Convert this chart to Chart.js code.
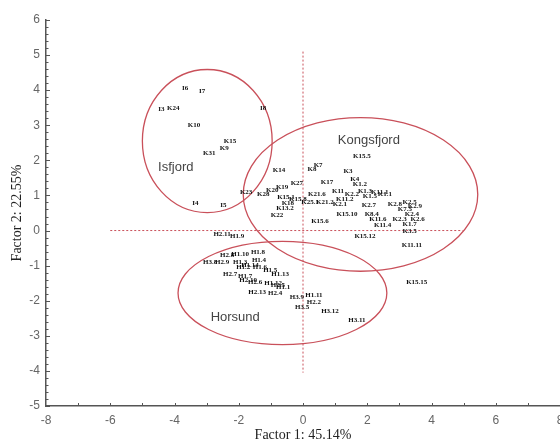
<!DOCTYPE html>
<html>
<head>
<meta charset="utf-8">
<script src="https://cdn.jsdelivr.net/npm/chart.js@4.4.1/dist/chart.umd.min.js"></script>
<style>
  html, body { margin: 0; padding: 0; background: #fff; }
  #wrap { width: 560px; height: 444px; }
</style>
</head>
<body>
<div id="wrap"><canvas id="plot"></canvas></div>
<script>
// Sample scores, Isfjord group
const isfjordNames = ['I6', 'I7', 'I3', 'K24', 'I8', 'K10', 'K15', 'K9', 'K31', 'K23', 'I4', 'I5'];
const isfjordF1 = [-3.67, -3.14, -4.41, -4.04, -1.24, -3.39, -2.27, -2.45, -2.92, -1.77, -3.35, -2.48];
const isfjordF2 = [4.07, 3.96, 3.45, 3.50, 3.50, 2.99, 2.56, 2.34, 2.20, 1.08, 0.77, 0.71];

// Kongsfjord group
const kongsNames = ['K15.5', 'K8', 'K7', 'K14', 'K3', 'K4', 'K1.2', 'K27', 'K17', 'K19', 'K28', 'K20',
  'K15.1', 'K15.8', 'K21.6', 'K11', 'K11.1', 'K2.2', 'K1.3', 'K1.5', 'K11.2', 'K2.7', 'K18', 'K13.2',
  'K25.1', 'K21.2', 'K2.1', 'K15.10', 'K22', 'K15.6', 'K8.4', 'K11.6', 'K15.12', 'K11.4', 'K1.1',
  'K2.5', 'K7.5', 'K2.4', 'K2.6', 'K1.7', 'K2.3', 'K2.8', 'K2.9', 'K3.5', 'K11.11', 'K15.15'];
const kongsF1 = [1.83, 0.28, 0.47, -0.75, 1.40, 1.61, 1.77, -0.19, 0.75, -0.65, -1.24, -0.96,
  -0.53, -0.16, 0.43, 1.09, 2.39, 1.52, 1.93, 2.08, 1.30, 2.05, -0.47, -0.56,
  0.22, 0.68, 1.15, 1.37, -0.81, 0.53, 2.14, 2.33, 1.93, 2.48, 2.55,
  3.32, 3.17, 3.39, 3.57, 3.32, 3.01, 2.86, 3.48, 3.32, 3.39, 3.54];
const kongsF2 = [2.11, 1.74, 1.85, 1.71, 1.68, 1.45, 1.31, 1.34, 1.37, 1.23, 1.05, 1.14,
  0.94, 0.88, 1.03, 1.11, 1.08, 1.03, 1.11, 0.97, 0.88, 0.71, 0.77, 0.63,
  0.80, 0.80, 0.74, 0.48, 0.43, 0.26, 0.46, 0.31, -0.17, 0.14, 1.03,
  0.80, 0.60, 0.48, 0.31, 0.17, 0.31, 0.74, 0.68, -0.03, -0.43, -1.48];

// Horsund group
const horsundNames = ['H2.11', 'H1.9', 'H1.8', 'H2.8', 'H1.10', 'H1.4', 'H3.8', 'H2.9', 'H1.3', 'H1.14',
  'H1.2', 'H1.6', 'H1.5', 'H1.13', 'H2.7', 'H1.7', 'H2.10', 'H2.6', 'H1.12', 'H1.1', 'H2.5',
  'H2.13', 'H2.4', 'H3.9', 'H1.11', 'H2.2', 'H3.5', 'H3.12', 'H3.11'];
const horsundF1 = [-2.52, -2.05, -1.40, -2.36, -1.96, -1.37, -2.89, -2.52, -1.96, -1.65,
  -1.86, -1.34, -1.02, -0.71, -2.27, -1.80, -1.71, -1.49, -0.93, -0.62, -0.78,
  -1.43, -0.87, -0.19, 0.34, 0.34, -0.03, 0.84, 1.68];
const horsundF2 = [-0.09, -0.17, -0.63, -0.71, -0.68, -0.85, -0.91, -0.91, -0.91, -1.00,
  -1.05, -1.05, -1.14, -1.23, -1.25, -1.31, -1.42, -1.48, -1.51, -1.62, -1.57,
  -1.77, -1.79, -1.91, -1.85, -2.05, -2.17, -2.31, -2.56];

// Group ellipses (data units)
const groupNames = ['Isfjord', 'Kongsfjord', 'Horsund'];
const ellipseCx = [-2.98, 1.79, -0.64];
const ellipseCy = [2.55, 1.03, -1.78];
const ellipseRx = [2.02, 3.65, 3.25];
const ellipseRy = [2.04, 2.19, 1.47];
const groupLabelX = [-3.96, 2.05, -2.11];
const groupLabelY = [1.8, 2.58, -2.49];

// Axis ticks
const xTicks = [-8, -6, -4, -2, 0, 2, 4, 6, 8];
const yTicks = [-5, -4, -3, -2, -1, 0, 1, 2, 3, 4, 5, 6];

function toPoints(names, f1, f2) {
  return names.map((n, i) => ({ x: f1[i], y: f2[i], name: n }));
}

const RED = '#c9505a';
const AXIS = '#555';

// draws ellipses, zero lines, minor ticks, group names and point labels
const overlayPlugin = {
  id: 'overlay',
  beforeDatasetsDraw(chart) {
    const { ctx, scales: { x, y } } = chart;
    ctx.save();
    // dotted zero lines
    ctx.strokeStyle = RED;
    ctx.lineWidth = 1;
    ctx.setLineDash([2, 2]);
    ctx.beginPath();
    ctx.moveTo(x.getPixelForValue(0), y.getPixelForValue(5.1));
    ctx.lineTo(x.getPixelForValue(0), y.getPixelForValue(-4.05));
    ctx.moveTo(x.getPixelForValue(-6), y.getPixelForValue(0));
    ctx.lineTo(x.getPixelForValue(4.97), y.getPixelForValue(0));
    ctx.stroke();
    ctx.setLineDash([]);

    // ellipses
    ctx.lineWidth = 1.3;
    for (let i = 0; i < groupNames.length; i++) {
      const cx = x.getPixelForValue(ellipseCx[i]);
      const cy = y.getPixelForValue(ellipseCy[i]);
      const rx = Math.abs(x.getPixelForValue(ellipseCx[i] + ellipseRx[i]) - cx);
      const ry = Math.abs(y.getPixelForValue(ellipseCy[i] + ellipseRy[i]) - cy);
      ctx.beginPath();
      ctx.ellipse(cx, cy, rx, ry, 0, 0, Math.PI * 2);
      ctx.stroke();
    }

    // group names
    ctx.fillStyle = '#444';
    ctx.font = '13px "Liberation Sans", Arial, sans-serif';
    ctx.textAlign = 'center';
    ctx.textBaseline = 'middle';
    groupNames.forEach((g, i) => {
      ctx.fillText(g, x.getPixelForValue(groupLabelX[i]), y.getPixelForValue(groupLabelY[i]));
    });

    // minor ticks, pointing inwards
    ctx.strokeStyle = AXIS;
    ctx.lineWidth = 1;
    ctx.beginPath();
    const left = chart.chartArea.left, bottom = chart.chartArea.bottom;
    for (let v = -5; v <= 6.001; v += 0.2) {
      const py = Math.round(y.getPixelForValue(v)) + 0.5;
      const len = Math.abs(v - Math.round(v)) < 0.01 ? 4 : 2.5;
      ctx.moveTo(left, py);
      ctx.lineTo(left + len, py);
    }
    for (let v = -7; v <= 8; v += 1) {
      const px = Math.round(x.getPixelForValue(v)) + 0.5;
      ctx.moveTo(px, bottom);
      ctx.lineTo(px, bottom - 3);
    }
    ctx.stroke();
    ctx.restore();
  },
  afterDatasetsDraw(chart) {
    const { ctx } = chart;
    ctx.save();
    ctx.fillStyle = '#111';
    ctx.font = 'bold 7px "Liberation Serif", "Times New Roman", serif';
    ctx.textAlign = 'center';
    ctx.textBaseline = 'middle';
    chart.data.datasets.forEach((ds, di) => {
      chart.getDatasetMeta(di).data.forEach((el, i) => {
        ctx.fillText(ds.data[i].name, el.x, el.y);
      });
    });
    ctx.restore();
  }
};

const ctx = document.getElementById('plot').getContext('2d');
const chart = new Chart(ctx, {
  type: 'scatter',
  data: {
    datasets: [
      { label: 'Isfjord', data: toPoints(isfjordNames, isfjordF1, isfjordF2) },
      { label: 'Kongsfjord', data: toPoints(kongsNames, kongsF1, kongsF2) },
      { label: 'Horsund', data: toPoints(horsundNames, horsundF1, horsundF2) }
    ]
  },
  options: {
    responsive: true,
    maintainAspectRatio: false,
    animation: false,
    layout: { padding: { top: 20, left: 0, right: 0, bottom: 0 } },
    elements: { point: { radius: 0, hoverRadius: 0 } },
    plugins: { legend: { display: false }, tooltip: { enabled: false } },
    scales: {
      x: {
        type: 'linear',
        min: -8,
        max: 8,
        afterBuildTicks(scale) { scale.ticks = xTicks.map(v => ({ value: v })); },
        afterFit(scale) { scale.height = 38; scale.paddingLeft = 0; scale.paddingRight = 0; },
        grid: { display: false, drawTicks: false },
        border: { display: true, color: AXIS, width: 1.5 },
        ticks: { color: '#666', padding: 7, font: { family: '"Liberation Sans", Arial, sans-serif', size: 12 } },
        title: {
          display: true,
          text: 'Factor 1: 45.14%',
          color: '#222',
          padding: { top: 0, bottom: 0 },
          font: { family: '"Liberation Serif", "Times New Roman", serif', size: 14 }
        }
      },
      y: {
        type: 'linear',
        min: -5,
        max: 6,
        afterBuildTicks(scale) { scale.ticks = yTicks.map(v => ({ value: v })); },
        afterFit(scale) { scale.width = 46; scale.paddingTop = 0; scale.paddingBottom = 0; },
        grid: { display: false, drawTicks: false },
        border: { display: true, color: AXIS, width: 1.5 },
        ticks: { color: '#666', padding: 6, font: { family: '"Liberation Sans", Arial, sans-serif', size: 12 } },
        title: {
          display: true,
          text: 'Factor 2: 22.55%',
          color: '#222',
          padding: { top: 9, bottom: 0 },
          font: { family: '"Liberation Serif", "Times New Roman", serif', size: 14 }
        }
      }
    }
  },
  plugins: [overlayPlugin]
});
</script>
</body>
</html>
